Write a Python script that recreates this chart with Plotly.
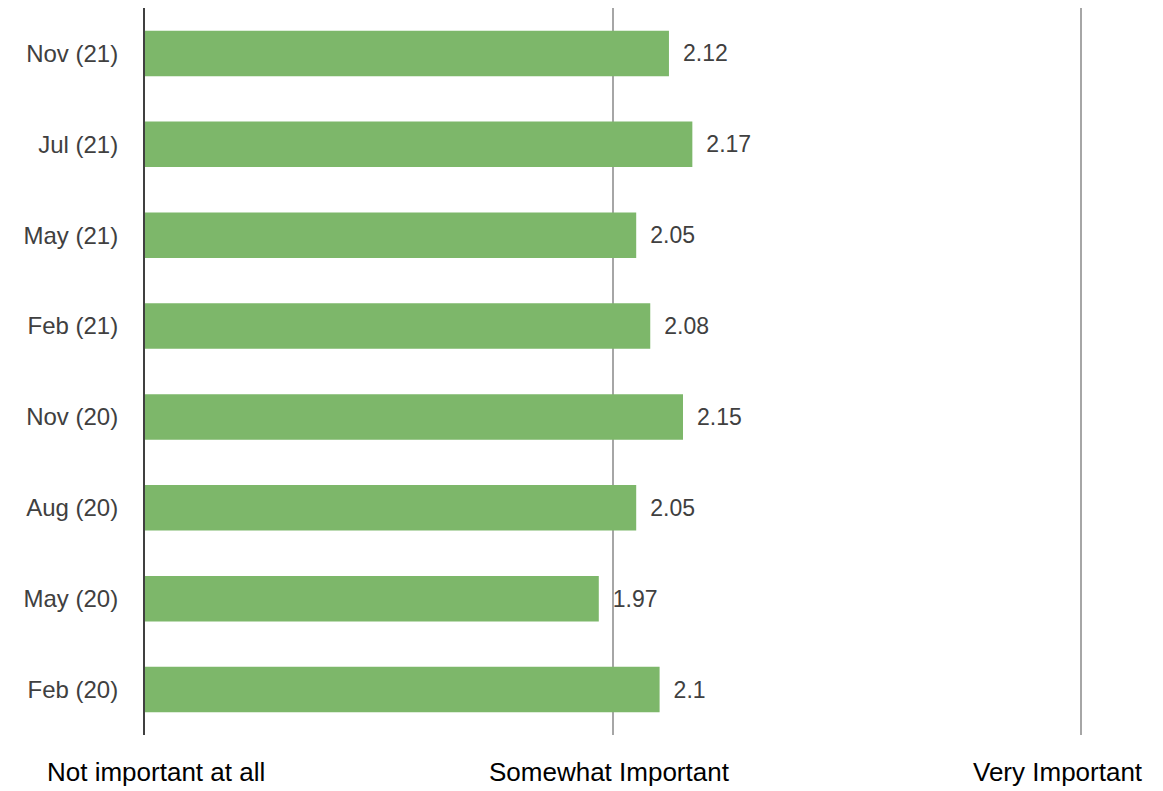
import plotly.graph_objects as go

categories = ["Feb (20)", "May (20)", "Aug (20)", "Nov (20)", "Feb (21)", "May (21)", "Jul (21)", "Nov (21)"]
values = [2.10, 1.97, 2.05, 2.15, 2.08, 2.05, 2.17, 2.12]
value_labels = ["2.1", "1.97", "2.05", "2.15", "2.08", "2.05", "2.17", "2.12"]
tick_vals = [1, 2, 3]
tick_labels = ["Not important at all", "Somewhat Important", "Very Important"]

FONT = "Liberation Sans, Arial, sans-serif"
W, H = 1163, 791
X_MIN, X_MAX = 1, 3.02
ML, MR, MT, MB = 145, 73, 8, 56

fig = go.Figure()
fig.add_trace(go.Bar(
    y=categories,
    x=[v - 1 for v in values],
    base=1,
    orientation="h",
    marker=dict(color="#7DB76A", line=dict(width=0)),
    text=["\u00a0\u2009" + t for t in value_labels],
    textposition="outside",
    textfont=dict(family=FONT, size=23, color="#404040"),
    cliponaxis=False,
))

fig.update_layout(
    width=W, height=H,
    margin=dict(l=ML, r=MR, t=MT, b=MB),
    plot_bgcolor="white", paper_bgcolor="white",
    showlegend=False,
    bargap=0.5,
    xaxis=dict(range=[X_MIN, X_MAX], tickvals=tick_vals, showticklabels=False,
               showgrid=True, gridcolor="#A6A6A6", gridwidth=2,
               zeroline=False, showline=False),
    yaxis=dict(categoryorder="array", categoryarray=categories,
               tickfont=dict(family=FONT, size=24, color="#404040"),
               ticks="", ticklen=0, ticklabelstandoff=20,
               showline=True, linecolor="#404040", linewidth=2,
               showgrid=False, zeroline=False),
)

label_px = [156, 609, 1058]
plot_w = W - ML - MR
plot_h = H - MT - MB
for tl, px in zip(tick_labels, label_px):
    fig.add_annotation(
        x=(px - ML) / plot_w, xref="paper",
        y=(H - MB - 772) / plot_h, yref="paper",
        text=tl, showarrow=False,
        font=dict(family=FONT, size=26, color="#000000"),
        xanchor="center", yanchor="middle",
    )

fig.write_html("out.html")
